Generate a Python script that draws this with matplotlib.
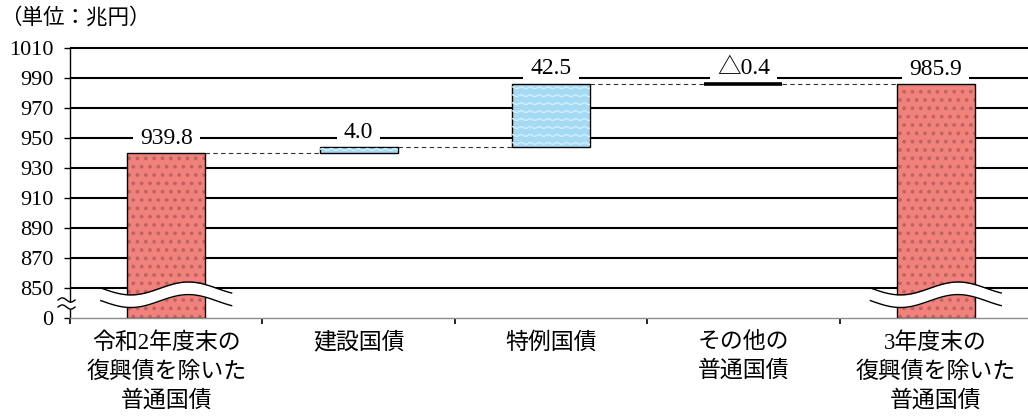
import numpy as np
import matplotlib.pyplot as plt

plt.rcParams['font.family'] = ['Liberation Serif', 'Noto Sans CJK JP', 'DejaVu Sans']
plt.rcParams['hatch.linewidth'] = 1.5

# 普通国債残高の増減（兆円）
categories = ['令和2年度末の\n復興債を除いた\n普通国債', '建設国債', '特例国債',
              'その他の\n普通国債', '3年度末の\n復興債を除いた\n普通国債']
start_total = 939.8
changes = [4.0, 42.5, -0.4]
end_total = 985.9
value_labels = ['939.8', '4.0', '42.5', '△0.4', '985.9']
ytick_values = [0, 850, 870, 890, 910, 930, 950, 970, 990, 1010]

# 0〜850 の区間は省略して詰めて描く
BREAK_AT = 850
BASE = 830


def squash(v):
    return v if v >= BREAK_AT else BASE + (BREAK_AT - BASE) * v / BREAK_AT


red = '#f0827b'
red_dot = '#bf6262'
blue = '#a6daf4'
bar_w = 0.405

fig = plt.figure(figsize=(10.28, 4.16), dpi=100)
ax = fig.add_axes([70 / 1028, 98 / 416, 962 / 1028, 270 / 416])
ax.set_xlim(-0.5, 4.5)
ax.set_ylim(BASE, 1010)

# 目盛線
grid_vals = [squash(v) for v in ytick_values if v >= BREAK_AT]
ax.hlines(grid_vals, -0.5, 4.5, colors='black', lw=1.5, zorder=0.5,
          clip_on=False)

# 棒の上下端
levels = [start_total]
for c in changes:
    levels.append(levels[-1] + c)
bars = [(squash(0), start_total)]
for i, c in enumerate(changes):
    bars.append((min(levels[i], levels[i + 1]), max(levels[i], levels[i + 1])))
bars.append((squash(0), end_total))

x = np.arange(len(categories))
for i, (lo, hi) in enumerate(bars):
    if i in (0, len(bars) - 1):
        ax.bar(x[i], hi - lo, bottom=lo, width=bar_w, color=red,
               edgecolor=red_dot, hatch='..', lw=0, zorder=2)
        ax.bar(x[i], hi - lo, bottom=lo, width=bar_w, fill=False,
               edgecolor='black', lw=1.0, zorder=2.1)
    elif changes[i - 1] < 0:
        ax.bar(x[i], hi - lo, bottom=lo, width=bar_w, color='black',
               edgecolor='black', lw=2.6, zorder=2)
    else:
        b = ax.bar(x[i], hi - lo, bottom=lo, width=bar_w, color=blue,
                   edgecolor='black', lw=1.0, zorder=2)[0]
        # 波模様
        wx = np.linspace(x[i] - bar_w / 2, x[i] + bar_w / 2, 300)
        for yy in np.arange(lo + 2.6, hi, 5.3):
            ln, = ax.plot(wx, yy + 0.6 * np.sin(2 * np.pi * wx / 0.047),
                          color='#d2f0fc', lw=1.0, zorder=2.05)
            ln.set_clip_path(b)

# データラベル（白地で目盛線を隠す）
for i, (lo, hi) in enumerate(bars):
    ax.annotate(value_labels[i], (x[i], hi), xytext=(0, 10.5),
                textcoords='offset points', ha='center', va='center',
                fontsize=17, zorder=1.8,
                bbox=dict(boxstyle='square,pad=0.3', fc='white', ec='none'))

# 接続線
for i in range(len(levels)):
    ax.plot([x[i] + bar_w / 2, x[i + 1] - bar_w / 2], [levels[i], levels[i]],
            ls=(0, (4, 3)), color='#333333', lw=0.8, zorder=1.9)

# 棒の省略記号
t = np.linspace(0, 1, 120)
for i in (0, len(bars) - 1):
    wx = x[i] - 0.34 + 0.68 * t
    top = 849.7 + 4.3 * np.sin(2 * np.pi * (t - 0.45) / 0.88)
    bot = top - 8.4
    ax.fill_between(wx, bot, top, color='white', lw=0, zorder=3)
    ax.plot(wx, top, color='black', lw=1.0, zorder=3.1)
    ax.plot(wx, bot, color='black', lw=1.0, zorder=3.1)

# 軸の省略記号
s = np.linspace(0, 1, 40)
ax_x = -0.5 - 0.062 + 0.088 * s
wave = 1.4 * np.sin(2 * np.pi * s)
ax.fill_between(ax_x, 837.3 + wave, 842.0 + wave, color='white', lw=0,
                zorder=5, clip_on=False)
ax.plot(ax_x, 842.0 + wave, color='black', lw=1.0, zorder=5.1, clip_on=False)
ax.plot(ax_x, 837.3 + wave, color='black', lw=1.0, zorder=5.1, clip_on=False)

# 軸
ax.set_yticks([squash(v) for v in ytick_values])
ax.set_yticklabels([str(v) for v in ytick_values], fontsize=16)
ax.tick_params(axis='y', length=4, width=1, pad=8, direction='out')
ax.set_xticks(x)
ax.set_xticklabels(categories, fontsize=16.5, linespacing=1.45)
ax.tick_params(axis='x', which='major', length=0, pad=10)
ax.set_xticks(np.arange(-0.5, 5, 1), minor=True)
ax.tick_params(axis='x', which='minor', length=4, width=1.2, direction='out')
for side in ('top', 'right'):
    ax.spines[side].set_visible(False)
ax.spines['left'].set_color('black')
ax.spines['left'].set_linewidth(1.0)
ax.spines['bottom'].set_color('#8c8c8c')
ax.spines['bottom'].set_linewidth(1.0)

fig.text(0.0, 1 - 18 / 416, '（単位：兆円）', fontsize=15.5, va='center')

fig.savefig('out.png', dpi=100)
